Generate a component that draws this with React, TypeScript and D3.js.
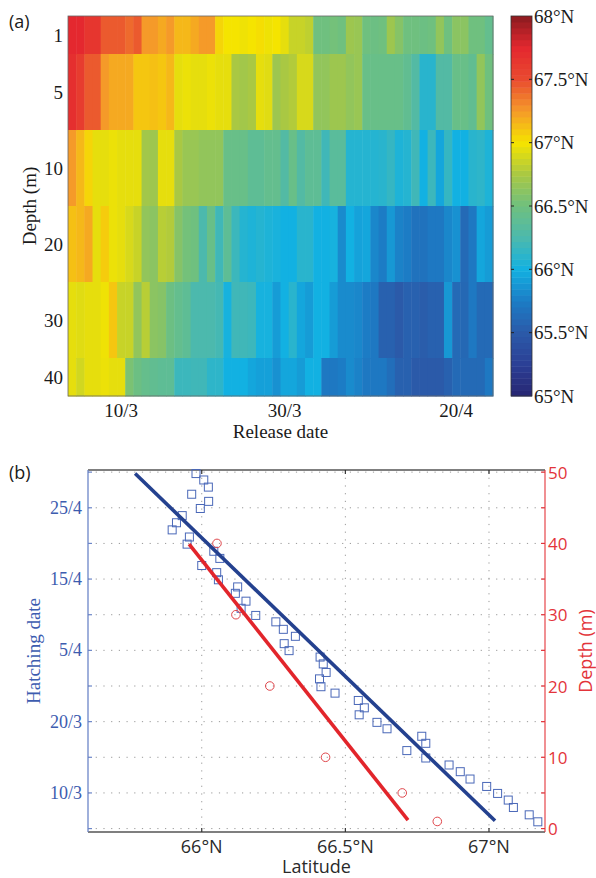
import { useEffect, useRef } from "react";
import * as d3 from "d3";

// ---- panel (a): mean latitude by release date and depth ----
const depthLevels = [1, 5, 10, 20, 30, 40];
const releaseStart = new Date(2008, 2, 4); // first release day, 4 March
const releaseTickDates = [new Date(2008, 2, 10), new Date(2008, 2, 30), new Date(2008, 3, 20)];

const lat1m = [67.75, 67.75, 67.65, 67.65, 67.45, 67.45, 67.45, 67.4, 67.45, 67.25, 67.25, 67.2, 67.25, 67.15, 67.15, 67.2, 67.25, 67.25, 67.05, 67.0, 67.0, 66.98, 67.0, 67.02, 66.98, 67.0, 66.95, 66.85, 66.85, 66.82, 66.5, 66.5, 66.52, 66.5, 66.7, 66.68, 66.5, 66.48, 66.5, 66.7, 66.6, 66.5, 66.5, 66.48, 66.5, 66.65, 66.5, 66.62, 66.62, 66.5, 66.5, 66.42];
const lat5m = [67.7, 67.6, 67.45, 67.45, 67.25, 67.2, 67.2, 67.2, 67.1, 67.1, 67.12, 67.1, 67.15, 66.95, 66.97, 66.95, 66.95, 66.97, 66.95, 66.95, 66.75, 66.72, 66.75, 66.95, 66.93, 66.7, 66.75, 66.78, 66.9, 66.9, 66.65, 66.65, 66.7, 66.7, 66.65, 66.68, 66.45, 66.45, 66.45, 66.45, 66.45, 66.4, 66.3, 66.1, 66.1, 66.3, 66.3, 66.45, 66.45, 66.4, 66.65, 66.5];
const lat10m = [67.25, 67.15, 67.05, 66.95, 66.95, 66.97, 66.95, 66.95, 66.95, 66.72, 66.7, 66.95, 66.95, 66.75, 66.68, 66.68, 66.65, 66.65, 66.65, 66.45, 66.45, 66.45, 66.38, 66.38, 66.42, 66.42, 66.3, 66.45, 66.3, 66.38, 66.38, 66.2, 66.35, 66.35, 66.08, 66.08, 66.08, 66.08, 66.1, 66.15, 66.05, 66.08, 66.2, 66.0, 66.18, 65.95, 66.15, 66.0, 66.0, 66.1, 66.12, 66.05];
const lat20m = [67.12, 67.15, 67.2, 66.95, 67.08, 66.97, 66.95, 66.9, 66.85, 66.65, 66.62, 66.8, 66.78, 66.6, 66.52, 66.5, 66.25, 66.45, 66.2, 66.38, 66.18, 66.08, 66.05, 66.08, 66.05, 66.03, 66.0, 66.0, 66.1, 66.1, 66.0, 66.0, 66.02, 65.82, 66.0, 65.93, 65.95, 65.8, 65.75, 65.88, 65.78, 65.75, 65.68, 65.68, 65.72, 65.72, 65.8, 65.85, 65.62, 65.72, 65.95, 65.9];
const lat30m = [66.95, 66.93, 66.95, 66.95, 66.98, 67.1, 66.85, 66.85, 66.65, 66.8, 66.62, 66.6, 66.48, 66.42, 66.38, 66.25, 66.25, 66.25, 66.22, 66.02, 66.2, 66.2, 66.18, 66.02, 66.02, 65.9, 66.0, 66.1, 65.95, 65.9, 66.0, 66.0, 65.9, 65.82, 65.82, 65.8, 65.75, 65.72, 65.55, 65.55, 65.5, 65.55, 65.55, 65.52, 65.55, 65.55, 65.88, 65.62, 65.6, 65.72, 65.62, 65.62];
const lat40m = [66.95, 66.88, 66.95, 66.95, 66.97, 66.95, 66.95, 66.55, 66.48, 66.43, 66.4, 66.38, 66.38, 66.18, 66.18, 66.2, 66.2, 66.12, 66.12, 66.0, 66.0, 66.0, 65.95, 65.92, 65.92, 65.85, 65.95, 65.95, 65.9, 66.0, 66.0, 65.72, 65.72, 65.75, 65.82, 65.78, 65.72, 65.72, 65.72, 65.65, 65.55, 65.55, 65.5, 65.5, 65.5, 65.5, 65.55, 65.62, 65.62, 65.62, 65.62, 65.72];
const latRows = [lat1m, lat5m, lat10m, lat20m, lat30m, lat40m];

const colorbarTicks = [65, 65.5, 66, 66.5, 67, 67.5, 68];

// ---- panel (b): hatching date and depth vs latitude ----
const hatchLat = [65.98, 66.007, 66.023, 65.965, 66.024, 65.995, 65.932, 65.912, 65.897, 65.957, 65.949, 66.042, 66.063, 66.0, 66.052, 66.058, 66.125, 66.117, 66.154, 66.137, 66.188, 66.258, 66.284, 66.326, 66.287, 66.304, 66.412, 66.423, 66.433, 66.41, 66.415, 66.464, 66.545, 66.566, 66.548, 66.61, 66.645, 66.766, 66.78, 66.714, 66.78, 66.861, 66.9, 66.934, 66.992, 67.03, 67.067, 67.085, 67.14, 67.17];
const hatchDay = [44.8, 43.9, 42.9, 41.9, 40.9, 39.9, 38.9, 37.9, 36.9, 35.9, 34.9, 33.9, 32.9, 31.9, 30.9, 29.9, 28.9, 28.0, 26.9, 25.9, 24.9, 24.0, 22.95, 21.97, 20.94, 19.96, 19.06, 18.1, 16.9, 16.0, 14.9, 14.0, 12.97, 11.94, 10.96, 9.9, 9.0, 7.95, 6.96, 5.94, 4.9, 3.92, 2.98, 1.95, 0.91, -0.07, -1.0, -2.04, -3.07, -4.05];
const hatchFitLat = [65.768, 67.021];
const hatchFitDay = [44.8, -3.9];

const depthMeanLat = [66.82, 66.698, 66.431, 66.237, 66.119, 66.053];
const depthMeanDepth = [1, 5, 10, 20, 30, 40];
const depthFitLat = [65.956, 66.718];
const depthFitDepth = [39.9, 1.2];

const hatchTickValues = [-5, 0, 5, 10, 15, 20, 25, 30, 35, 40, 45];
const hatchTickLabels = ["", "10/3", "", "20/3", "", "5/4", "", "15/4", "", "25/4", ""];
const depthTickValues = [0, 5, 10, 15, 20, 25, 30, 35, 40, 45, 50];
const latTicks = [66, 66.5, 67];

const serif = "'Liberation Serif', 'DejaVu Serif', serif";
const sans = "'Open Sans', 'Liberation Sans', sans-serif";

function App() {
  const ref = useRef(null);

  useEffect(() => {
    const svg = d3.select(ref.current);
    svg.selectAll("*").remove();

    // ================= panel (a) =================
    const a = { left: 68, right: 493, top: 16, bottom: 396 };
    const nCols = lat1m.length;
    const x = d3
      .scaleTime()
      .domain([releaseStart, d3.timeDay.offset(releaseStart, nCols)])
      .range([a.left, a.right]);
    const yRow = d3.scaleLinear().domain([0, depthLevels.length - 1]).range([a.top, a.bottom]);
    const color = d3
      .scaleLinear()
      .domain([65, 65.25, 65.5, 65.75, 66, 66.25, 66.5, 66.75, 67, 67.25, 67.5, 67.75, 68])
      .range(["#272672", "#2b3f95", "#2b5aa9", "#1c7cc5", "#12b1e2", "#4cb9ad", "#6fc07f", "#a9c843", "#f5e400", "#f59a29", "#e94a2f", "#e4282f", "#8b1b20"])
      .clamp(true);

    const cells = [];
    latRows.forEach((row, r) => {
      row.forEach((v, c) => {
        cells.push({ r, c, v });
      });
    });
    const rowTop = (r) => yRow(Math.max(0, r - 0.5));
    const rowBot = (r) => yRow(Math.min(depthLevels.length - 1, r + 0.5));

    svg
      .append("g")
      .selectAll("rect")
      .data(cells)
      .join("rect")
      .attr("x", (d) => x(d3.timeDay.offset(releaseStart, d.c)))
      .attr("width", (d) => x(d3.timeDay.offset(releaseStart, d.c + 1)) - x(d3.timeDay.offset(releaseStart, d.c)) + 0.5)
      .attr("y", (d) => rowTop(d.r))
      .attr("height", (d) => rowBot(d.r) - rowTop(d.r) + 0.5)
      .attr("fill", (d) => color(d.v));

    svg
      .append("rect")
      .attr("x", a.left)
      .attr("y", a.top)
      .attr("width", a.right - a.left)
      .attr("height", a.bottom - a.top)
      .attr("fill", "none")
      .attr("stroke", "#666")
      .attr("stroke-width", 0.8);

    // depth labels
    svg
      .append("g")
      .selectAll("text")
      .data(depthLevels)
      .join("text")
      .attr("x", a.left - 5)
      .attr("y", (d, i) => (rowTop(i) + rowBot(i)) / 2)
      .attr("text-anchor", "end")
      .attr("dominant-baseline", "central")
      .style("font-family", serif)
      .style("font-size", "19px")
      .attr("fill", "#1a1a1a")
      .text((d) => d);

    // release date ticks
    const fmt = d3.timeFormat("%-d/%-m");
    svg
      .append("g")
      .selectAll("text")
      .data(releaseTickDates)
      .join("text")
      .attr("x", (d) => x(d3.timeHour.offset(d, 12)))
      .attr("y", 417)
      .attr("text-anchor", "middle")
      .style("font-family", serif)
      .style("font-size", "19px")
      .attr("fill", "#1a1a1a")
      .text((d) => fmt(d));

    svg
      .append("text")
      .attr("x", (a.left + a.right) / 2)
      .attr("y", 438)
      .attr("text-anchor", "middle")
      .style("font-family", serif)
      .style("font-size", "19px")
      .attr("fill", "#1a1a1a")
      .text("Release date");

    svg
      .append("text")
      .attr("transform", `translate(29, ${(a.top + a.bottom) / 2}) rotate(-90)`)
      .attr("text-anchor", "middle")
      .attr("dominant-baseline", "central")
      .style("font-family", serif)
      .style("font-size", "19px")
      .attr("fill", "#1a1a1a")
      .text("Depth (m)");

    svg
      .append("text")
      .attr("x", 9)
      .attr("y", 28)
      .style("font-family", sans)
      .style("font-size", "18px")
      .attr("fill", "#1a1a1a")
      .text("(a)");

    // colorbar
    const cb = { left: 511, right: 532 };
    const yc = d3.scaleLinear().domain([65, 68]).range([a.bottom, a.top]);
    const steps = d3.range(64).map((i) => 65 + (i * 3) / 64);
    svg
      .append("g")
      .selectAll("rect")
      .data(steps)
      .join("rect")
      .attr("x", cb.left)
      .attr("width", cb.right - cb.left)
      .attr("y", (d) => yc(d + 3 / 64))
      .attr("height", (d) => yc(d) - yc(d + 3 / 64) + 0.5)
      .attr("fill", (d) => color(d + 1.5 / 64));
    svg
      .append("rect")
      .attr("x", cb.left)
      .attr("y", a.top)
      .attr("width", cb.right - cb.left)
      .attr("height", a.bottom - a.top)
      .attr("fill", "none")
      .attr("stroke", "#333")
      .attr("stroke-width", 0.8);
    const cbInner = colorbarTicks.filter((t) => t > 65 && t < 68);
    svg
      .append("g")
      .selectAll("path")
      .data(cbInner)
      .join("path")
      .attr("d", (d) => `M${cb.left},${yc(d)}h3M${cb.right},${yc(d)}h-3`)
      .attr("stroke", "#222")
      .attr("stroke-width", 1);
    svg
      .append("g")
      .selectAll("text")
      .data(colorbarTicks)
      .join("text")
      .attr("x", cb.right + 2)
      .attr("y", (d) => yc(d))
      .attr("dominant-baseline", "central")
      .style("font-family", serif)
      .style("font-size", "19px")
      .attr("fill", "#1a1a1a")
      .text((d) => `${d}°N`);

    // ================= panel (b) =================
    const b = { left: 88, right: 545, top: 470, bottom: 832 };
    const xl = d3.scaleLinear().domain([65.604, 67.195]).range([b.left, b.right]);
    const yh = d3.scaleLinear().domain([-5.48, 45.3]).range([b.bottom, b.top]);
    const yd = d3.scaleLinear().domain([-0.48, 50.3]).range([b.bottom, b.top]);
    const blue = "#3d5caf";
    const blueAxis = "#6c86c8";
    const red = "#e3343a";

    // grid
    svg
      .append("g")
      .selectAll("line")
      .data(hatchTickValues)
      .join("line")
      .attr("x1", b.left)
      .attr("x2", b.right)
      .attr("y1", (d) => yh(d))
      .attr("y2", (d) => yh(d))
      .attr("stroke", "#999")
      .attr("stroke-width", 1)
      .attr("stroke-dasharray", "1.2,6.5");
    svg
      .append("g")
      .selectAll("line")
      .data(latTicks)
      .join("line")
      .attr("x1", (d) => xl(d))
      .attr("x2", (d) => xl(d))
      .attr("y1", b.top)
      .attr("y2", b.bottom)
      .attr("stroke", "#999")
      .attr("stroke-width", 1)
      .attr("stroke-dasharray", "1.2,6.5");

    // frame
    svg
      .append("line")
      .attr("x1", b.left)
      .attr("x2", b.right)
      .attr("y1", b.top)
      .attr("y2", b.top)
      .attr("stroke", "#555")
      .attr("stroke-width", 1.3);
    svg
      .append("line")
      .attr("x1", b.left)
      .attr("x2", b.right)
      .attr("y1", b.bottom)
      .attr("y2", b.bottom)
      .attr("stroke", "#555")
      .attr("stroke-width", 1.5);
    svg
      .append("line")
      .attr("x1", b.left)
      .attr("x2", b.left)
      .attr("y1", b.top)
      .attr("y2", b.bottom)
      .attr("stroke", blueAxis)
      .attr("stroke-width", 1.3);
    svg
      .append("line")
      .attr("x1", b.right)
      .attr("x2", b.right)
      .attr("y1", b.top)
      .attr("y2", b.bottom)
      .attr("stroke", red)
      .attr("stroke-width", 1.1);

    // ticks
    svg
      .append("g")
      .selectAll("path")
      .data(latTicks)
      .join("path")
      .attr("d", (d) => `M${xl(d)},${b.bottom}v-4M${xl(d)},${b.top}v4`)
      .attr("stroke", "#333")
      .attr("stroke-width", 1.2);
    svg
      .append("g")
      .selectAll("path")
      .data(hatchTickValues)
      .join("path")
      .attr("d", (d) => `M${b.left},${yh(d)}h4`)
      .attr("stroke", blueAxis)
      .attr("stroke-width", 1.2);
    svg
      .append("g")
      .selectAll("path")
      .data(depthTickValues)
      .join("path")
      .attr("d", (d) => `M${b.right},${yd(d)}h-4`)
      .attr("stroke", red)
      .attr("stroke-width", 1.2);

    // tick labels
    svg
      .append("g")
      .selectAll("text")
      .data(hatchTickValues.map((v, i) => ({ v, label: hatchTickLabels[i] })).filter((d) => d.label))
      .join("text")
      .attr("x", b.left - 6)
      .attr("y", (d) => yh(d.v))
      .attr("text-anchor", "end")
      .attr("dominant-baseline", "central")
      .style("font-family", serif)
      .style("font-size", "18px")
      .attr("fill", blue)
      .text((d) => d.label);
    svg
      .append("g")
      .selectAll("text")
      .data(depthTickValues.filter((d) => d % 10 === 0))
      .join("text")
      .attr("x", b.right + 3)
      .attr("y", (d) => yd(d))
      .attr("dominant-baseline", "central")
      .style("font-family", sans)
      .style("font-size", "17px")
      .attr("fill", red)
      .text((d) => d);
    svg
      .append("g")
      .selectAll("text")
      .data(latTicks)
      .join("text")
      .attr("x", (d) => xl(d))
      .attr("y", 853)
      .attr("text-anchor", "middle")
      .style("font-family", sans)
      .style("font-size", "18px")
      .attr("fill", "#2a2a2a")
      .text((d) => `${d}°N`);

    svg
      .append("text")
      .attr("x", (b.left + b.right) / 2)
      .attr("y", 873)
      .attr("text-anchor", "middle")
      .style("font-family", sans)
      .style("font-size", "18px")
      .attr("fill", "#2a2a2a")
      .text("Latitude");
    svg
      .append("text")
      .attr("transform", `translate(33, ${(b.top + b.bottom) / 2}) rotate(-90)`)
      .attr("text-anchor", "middle")
      .attr("dominant-baseline", "central")
      .style("font-family", serif)
      .style("font-size", "19px")
      .attr("fill", blue)
      .text("Hatching date");
    svg
      .append("text")
      .attr("transform", `translate(585, ${(b.top + b.bottom) / 2}) rotate(-90)`)
      .attr("text-anchor", "middle")
      .attr("dominant-baseline", "central")
      .style("font-family", sans)
      .style("font-size", "18px")
      .attr("fill", red)
      .text("Depth (m)");
    svg
      .append("text")
      .attr("x", 9)
      .attr("y", 479)
      .style("font-family", sans)
      .style("font-size", "18px")
      .attr("fill", "#1a1a1a")
      .text("(b)");

    // squares: hatching date
    const sq = 8;
    svg
      .append("g")
      .selectAll("rect")
      .data(hatchLat.map((lat, i) => ({ lat, day: hatchDay[i] })))
      .join("rect")
      .attr("x", (d) => xl(d.lat) - sq / 2)
      .attr("y", (d) => yh(d.day) - sq / 2)
      .attr("width", sq)
      .attr("height", sq)
      .attr("fill", "none")
      .attr("stroke", "#4a68b8")
      .attr("stroke-width", 1);

    // circles: depth
    svg
      .append("g")
      .selectAll("circle")
      .data(depthMeanLat.map((lat, i) => ({ lat, depth: depthMeanDepth[i] })))
      .join("circle")
      .attr("cx", (d) => xl(d.lat))
      .attr("cy", (d) => yd(d.depth))
      .attr("r", 4.3)
      .attr("fill", "none")
      .attr("stroke", "#e0474c")
      .attr("stroke-width", 1);

    // fitted lines
    const lineH = d3
      .line()
      .x((d) => xl(d[0]))
      .y((d) => yh(d[1]));
    svg
      .append("path")
      .attr("d", lineH(hatchFitLat.map((v, i) => [v, hatchFitDay[i]])))
      .attr("stroke", "#24418f")
      .attr("stroke-width", 3.6)
      .attr("fill", "none");
    const lineD = d3
      .line()
      .x((d) => xl(d[0]))
      .y((d) => yd(d[1]));
    svg
      .append("path")
      .attr("d", lineD(depthFitLat.map((v, i) => [v, depthFitDepth[i]])))
      .attr("stroke", "#e2252b")
      .attr("stroke-width", 3.6)
      .attr("fill", "none");
  }, []);

  return (
    <svg
      ref={ref}
      width={596}
      height={878}
      style={{ position: "absolute", left: 0, top: 0, background: "#fff" }}
    />
  );
}

export default App;
